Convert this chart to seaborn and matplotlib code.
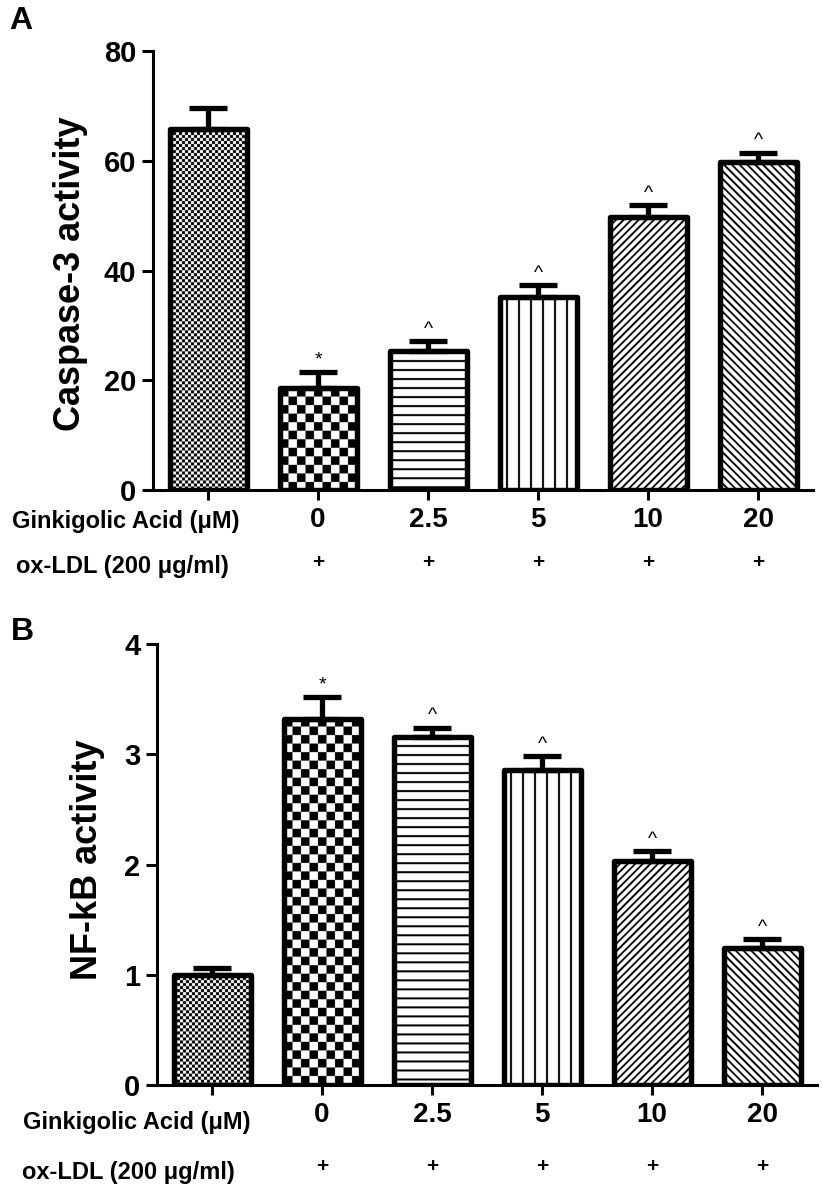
import numpy as np
import pandas as pd
import matplotlib
matplotlib.use("Agg")
import matplotlib.pyplot as plt
import seaborn as sns
from matplotlib.transforms import blended_transform_factory

# ---------------- data ----------------
groups = ["Control", "GA 0", "GA 2.5", "GA 5", "GA 10", "GA 20"]
conc_labels = ["", "0", "2.5", "5", "10", "20"]
oxldl_labels = ["", "+", "+", "+", "+", "+"]

casp_mean = [65.7, 18.5, 25.3, 35.2, 49.7, 59.7]
casp_err = [3.9, 3.0, 1.8, 2.1, 2.2, 1.8]
casp_marks = ["", "*", "^", "^", "^", "^"]

nfkb_mean = [1.0, 3.32, 3.16, 2.86, 2.03, 1.24]
nfkb_err = [0.06, 0.20, 0.08, 0.12, 0.09, 0.08]
nfkb_marks = ["", "*", "^", "^", "^", "^"]

patterns = ["checker_fine", "checker_coarse", "hlines", "vlines", "diag_up", "diag_down"]

# ---------------- style ----------------
sns.set_style("ticks")
plt.rcParams["font.family"] = ["Liberation Sans", "DejaVu Sans"]
plt.rcParams["font.weight"] = "bold"
plt.rcParams["axes.labelweight"] = "bold"
plt.rcParams["text.color"] = "black"
plt.rcParams["axes.labelcolor"] = "black"
plt.rcParams["xtick.color"] = "black"
plt.rcParams["ytick.color"] = "black"
plt.rcParams["axes.edgecolor"] = "black"

W_PX, H_PX, DPI = 822, 1189, 100
fig = plt.figure(figsize=(W_PX / DPI, H_PX / DPI), dpi=DPI)
fig.patch.set_facecolor("white")


def fx(px):
    return px / W_PX


def fy(py):
    return 1 - py / H_PX


def pattern_array(kind, wpx, hpx, ss=4):
    W = max(int(round(wpx * ss)), 1)
    H = max(int(round(hpx * ss)), 1)
    xs = (np.arange(W) + 0.5) / ss
    ys = (np.arange(H) + 0.5) / ss
    X, Y = np.meshgrid(xs, ys)
    if kind == "checker_fine":
        c = 3.0
        ink = ((np.floor(X / c) + np.floor(Y / c)) % 2) == 0
    elif kind == "checker_coarse":
        c = 8.5
        ink = ((np.floor(X / c) + np.floor(Y / c)) % 2) == 0
    elif kind == "hlines":
        ink = (Y % 9.0) < 2.0
    elif kind == "vlines":
        ink = ((X + 6) % 12.0) < 2.0
    elif kind == "diag_up":
        ink = ((X + Y) % 7.6) < 2.6
    else:
        ink = ((X - Y) % 7.8) < 2.6
    return np.where(ink, 0.0, 1.0)


def panel(rect, means, errs, marks, ymax, yticks, ylabel, label_xy,
          gin_xy, ox_xy, plus_y, letter, letter_xy):
    ax = fig.add_axes(rect)
    df = pd.DataFrame({"group": groups, "value": means})
    sns.barplot(data=df, x="group", y="value", order=groups, color="white",
                width=0.7, edgecolor="black", linewidth=3.9, errorbar=None,
                saturation=1, ax=ax)
    ax.set_xlim(-0.5, 5.5)
    ax.set_ylim(0, ymax)
    eb = ax.errorbar(np.arange(len(means)), means,
                     yerr=[np.zeros(len(errs)), errs], fmt="none", ecolor="black",
                     elinewidth=3.8, capsize=14, capthick=3.8, zorder=2.5)
    for cap in eb[1]:
        cap.set_solid_capstyle("round")

    fig.canvas.draw()
    bars = list(ax.patches)[:len(means)]
    for patch, kind in zip(bars, patterns):
        x0, y0 = patch.get_x(), patch.get_y()
        w, h = patch.get_width(), patch.get_height()
        p0 = ax.transData.transform((x0, y0))
        p1 = ax.transData.transform((x0 + w, y0 + h))
        wpx, hpx = abs(p1[0] - p0[0]), abs(p1[1] - p0[1])
        arr = pattern_array(kind, wpx, hpx)
        im = ax.imshow(arr, cmap="gray", vmin=0, vmax=1,
                       extent=(x0, x0 + w, y0, y0 + h), origin="upper",
                       aspect="auto", interpolation="antialiased", zorder=1.5)
        im.set_clip_path(patch)
        patch.set_facecolor("none")
        patch.set_zorder(3)
        patch.set_joinstyle("round")
    ax.set_xlim(-0.5, 5.5)
    ax.set_ylim(0, ymax)

    for i, (m, e, mk) in enumerate(zip(means, errs, marks)):
        if mk:
            ax.annotate(mk, (i, m + e), xytext=(0, 5.5), textcoords="offset points",
                        ha="center", va="baseline", fontsize=14,
                        fontweight="normal", color="black", zorder=4)

    sns.despine(ax=ax)
    for s in ["left", "bottom"]:
        ax.spines[s].set_linewidth(2.2)
        ax.spines[s].set_color("black")
    ax.set_yticks(yticks)
    ax.set_yticklabels([str(t) for t in yticks])
    ax.set_xticks(range(len(groups)))
    ax.set_xticklabels(conc_labels)
    ax.tick_params(axis="y", length=8, width=2.2, labelsize=21, pad=4, colors="black")
    ax.tick_params(axis="x", length=7, width=2.2, labelsize=20, pad=5.5, colors="black")
    for lab in ax.get_xticklabels() + ax.get_yticklabels():
        lab.set_fontweight("bold")
    ax.set_xlabel("")
    ax.set_ylabel(ylabel, fontsize=26, fontweight="bold", va="center", ha="center",
                  color="black")
    ax.yaxis.set_label_coords(*label_xy)
    ax.set_facecolor("white")
    ax.grid(False)

    fig.text(fx(gin_xy[0]), fy(gin_xy[1]), "Ginkigolic Acid (\u03bcM)",
             ha="left", va="center", fontsize=17, fontweight="bold", color="black")
    fig.text(fx(ox_xy[0]), fy(ox_xy[1]), "ox-LDL (200 \u03bcg/ml)",
             ha="left", va="center", fontsize=17, fontweight="bold", color="black")
    tr = blended_transform_factory(ax.transData, fig.transFigure)
    for i, s in enumerate(oxldl_labels):
        if s:
            ax.text(i, fy(plus_y), s, transform=tr, ha="center", va="center",
                    fontsize=15, fontweight="bold", color="black", clip_on=False)
    fig.text(fx(letter_xy[0]), fy(letter_xy[1]), letter, ha="center",
             va="center", fontsize=23, fontweight="bold", color="black")
    return ax


# Panel A: axes px left 153, right 813, top 51, bottom 490
axA = panel([fx(153), fy(490), (813 - 153) / W_PX, (490 - 51) / H_PX],
            casp_mean, casp_err, casp_marks, 80, [0, 20, 40, 60, 80],
            "Caspase-3 activity", (-0.125, 0.492),
            (12, 522), (16, 567), 563, "A", (21, 21))

# Panel B: axes px left 157, right 817, top 644, bottom 1085
axB = panel([fx(157), fy(1085), (817 - 157) / W_PX, (1085 - 644) / H_PX],
            nfkb_mean, nfkb_err, nfkb_marks, 4, [0, 1, 2, 3, 4],
            "NF-kB activity", (-0.106, 0.51),
            (23, 1123), (22, 1172), 1167, "B", (22, 632))

fig.savefig("out.png", dpi=DPI, facecolor="white")
